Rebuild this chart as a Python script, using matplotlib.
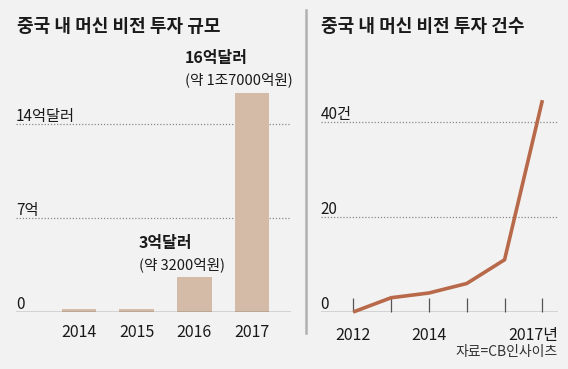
import matplotlib
matplotlib.use("Agg")
import matplotlib.pyplot as plt

plt.rcParams['font.family'] = ['Noto Sans CJK KR', 'DejaVu Sans']

# ---- data ----
bar_years = ['2014', '2015', '2016', '2017']
bar_values = [0.22, 0.22, 2.6, 16.3]          # 억달러
bar_yticks = [0, 7, 14]
bar_yticklabels = ['0', '7억', '14억달러']

line_years = [2012, 2013, 2014, 2015, 2016, 2017]
line_values = [0, 3, 4, 6, 11, 44.6]          # 건
line_yticks = [0, 20, 40]
line_yticklabels = ['0', '20', '40건']
line_xticklabels = {2012: '2012', 2014: '2014'}

left_title = '중국 내 머신 비전 투자 규모'
right_title = '중국 내 머신 비전 투자 건수'
source = '자료=CB인사이츠'

BG = '#f2f2f2'
BAR = '#d4bba7'
LINE = '#b8694a'
GRID = '#8a8a8a'
TXT = '#1a1a1a'

W, H = 568, 369
fig = plt.figure(figsize=(W / 100, H / 100), dpi=100, facecolor=BG)

def px_axes(x0, x1, ybot, ytop):
    return fig.add_axes([x0 / W, (H - ybot) / H, (x1 - x0) / W, (ybot - ytop) / H])

# ---- left: bars ----
axL = px_axes(16, 291, 312, 40)
axL.set_facecolor('none')
xs = list(range(len(bar_years)))
axL.bar(xs, bar_values, width=0.6, color=BAR, zorder=2)
axL.set_xlim(-1.094, 3.677)
axL.set_ylim(0, 272 / 13.43)
for s in axL.spines.values():
    s.set_visible(False)
axL.axhline(0, color='#555555', lw=1.0, zorder=3)
for v, lab in zip(bar_yticks, bar_yticklabels):
    if v > 0:
        axL.axhline(v, color=GRID, lw=0.9, ls=(0, (1, 1.5)), zorder=1)
    axL.text(-1.094, v + 0.25, lab, ha='left', va='baseline', fontsize=11, color=TXT)
axL.set_xticks([])
axL.set_yticks([])
for x, lab in zip(xs, bar_years):
    axL.text(x, -0.9, lab, ha='center', va='top', fontsize=11.5, color=TXT, clip_on=False)

# annotations
axL.text(1.84, bar_values[3] + 2.6, '16억달러', ha='left', va='center', fontsize=11.5,
         fontweight='bold', color=TXT, clip_on=False)
axL.text(1.84, bar_values[3] + 0.97, '(약 1조7000억원)', ha='left', va='center', fontsize=10.5,
         color=TXT, clip_on=False)
axL.text(1.04, bar_values[2] + 2.54, '3억달러', ha='left', va='center', fontsize=11.5,
         fontweight='bold', color=TXT)
axL.text(1.04, bar_values[2] + 0.9, '(약 3200억원)', ha='left', va='center', fontsize=10.5,
         color=TXT)

# ---- right: line ----
axR = px_axes(320.7, 558.3, 312, 40)
axR.set_facecolor('none')
axR.plot(line_years, line_values, color=LINE, lw=2.6, solid_capstyle='butt', zorder=3, clip_on=False)
axR.set_xlim(2011.14, 2017.42)
axR.set_ylim(0, 272 / 4.75)
for s in axR.spines.values():
    s.set_visible(False)
axR.axhline(0, color='#555555', lw=1.0, zorder=2)
for v, lab in zip(line_yticks, line_yticklabels):
    if v > 0:
        axR.axhline(v, color=GRID, lw=0.9, ls=(0, (1, 1.5)), zorder=1)
    axR.text(2011.14, v + 0.7, lab, ha='left', va='baseline', fontsize=11, color=TXT)
axR.set_xticks(line_years)
axR.set_xticklabels([])
axR.set_yticks([])
axR.tick_params(axis='x', direction='in', length=10, width=0.9, color='#555555', pad=0)
for yr, lab in line_xticklabels.items():
    axR.text(yr, -3.2, lab, ha='center', va='top', fontsize=11.5, color=TXT, clip_on=False)
axR.text(2017.42, -3.2, '2017년', ha='right', va='top', fontsize=11.5, color=TXT, clip_on=False)

# separator
fig.add_artist(plt.Line2D([305.7 / W, 305.7 / W], [(H - 10) / H, (H - 333) / H],
                          color='#b0b0b0', lw=1.8))

# titles
fig.text(17 / W, (H - 26) / H, left_title, ha='left', va='center', fontsize=13,
         fontweight='bold', color=TXT)
fig.text(321 / W, (H - 26) / H, right_title, ha='left', va='center', fontsize=13,
         fontweight='bold', color=TXT)
fig.text(558 / W, (H - 352) / H, source, ha='right', va='center', fontsize=10, color='#333333')

fig.savefig('out.png', dpi=100, facecolor=BG)
